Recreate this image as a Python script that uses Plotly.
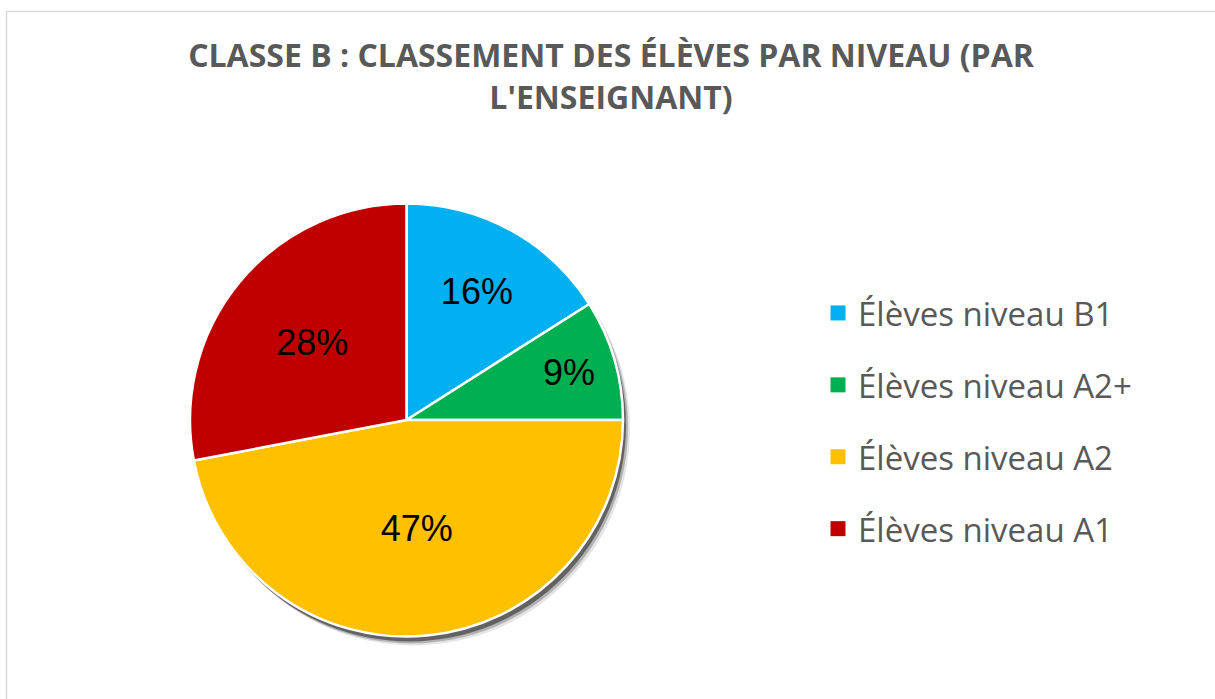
import plotly.graph_objects as go

categories = ["Élèves niveau B1", "Élèves niveau A2+", "Élèves niveau A2", "Élèves niveau A1"]
values = [16, 9, 47, 28]
colors = ["#00B0F0", "#00B050", "#FFC000", "#C00000"]
title_text = "CLASSE B : CLASSEMENT DES ÉLÈVES PAR NIVEAU (PAR<br>L'ENSEIGNANT)"

W, H = 1215, 699
cx, cy, r = 406.5, 420, 216.5

def dom(dx=0, dy=0):
    return dict(x=[(cx - r + dx) / W, (cx + r + dx) / W],
                y=[1 - (cy + r + dy) / H, 1 - (cy - r + dy) / H])

fig = go.Figure()

# soft shadow layers
for dx, dy, op in [(7, 9, 0.10), (5, 7, 0.22), (3, 5, 0.45)]:
    fig.add_trace(go.Pie(values=[sum(values)], labels=["shadow"], domain=dom(dx, dy),
                         marker=dict(colors=["#000000"]), opacity=op, textinfo="none",
                         hoverinfo="skip", showlegend=False, sort=False))

fig.add_trace(go.Pie(
    labels=categories, values=values, sort=False, direction="clockwise", rotation=0,
    domain=dom(), marker=dict(colors=colors, line=dict(color="white", width=2.5)),
    textinfo="percent", textposition="inside", insidetextorientation="horizontal",
    textfont=dict(family="Liberation Sans, Arial", size=36, color="black"),
    showlegend=False,
))

# legend entries
for cat, col in zip(categories, colors):
    fig.add_trace(go.Scatter(x=[None], y=[None], mode="markers", name=cat,
                             legendgroup=cat,
                             marker=dict(symbol="square", size=15, color=col)))

fig.update_layout(
    width=W, height=H, margin=dict(l=0, r=0, t=0, b=0),
    paper_bgcolor="white", plot_bgcolor="white",
    xaxis=dict(visible=False), yaxis=dict(visible=False),
    title=dict(text=title_text, x=611 / W, xanchor="center", y=1 - 67 / H, yanchor="top",
               font=dict(family="Open Sans", size=32, color="#595959", weight="bold")),
    legend=dict(x=818 / W, xanchor="left", y=1 - 421 / H, yanchor="middle",
                font=dict(family="Open Sans", size=33, color="#595959"),
                tracegroupgap=26, traceorder="grouped", itemsizing="trace"),
    shapes=[dict(type="rect", xref="paper", yref="paper", x0=6.5 / W, x1=1.02,
                 y0=-0.02, y1=1 - 11.5 / H, line=dict(color="#d9d9d9", width=1.5))],
)

fig.write_html("out.html", config={"displayModeBar": False},
               post_script="document.body.style.margin='0';")
